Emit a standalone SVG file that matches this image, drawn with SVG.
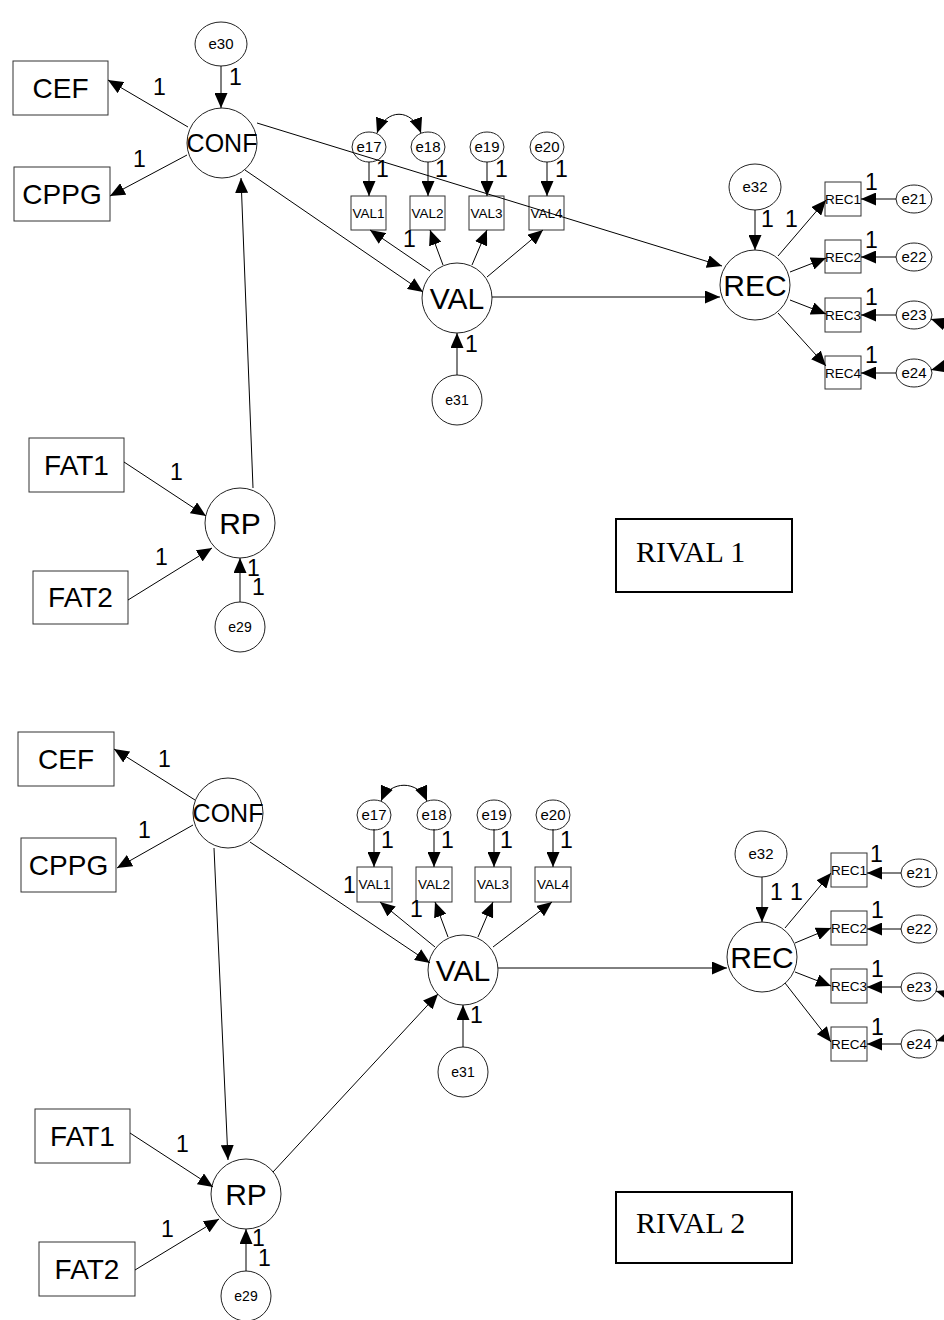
<svg xmlns="http://www.w3.org/2000/svg" width="944" height="1320" viewBox="0 0 944 1320">
<style>
.bx{fill:#fff;stroke:#333;stroke-width:1}
.lv{fill:#fff;stroke:#222;stroke-width:1}
.t{font-family:"Liberation Sans",Arial,sans-serif;fill:#000;text-anchor:middle}
.big{font-size:28px}
.lat{font-size:30px}
.sm{font-size:15px}
.ob{font-size:13.5px}
.n{font-family:"Liberation Sans",Arial,sans-serif;font-size:23px;fill:#000}
.c{fill:none;stroke:#000;stroke-width:1;marker-end:url(#ah)}
.cv{fill:none;stroke:#000;stroke-width:1;marker-end:url(#ah);marker-start:url(#ah)}
.rv{fill:#fff;stroke:#000;stroke-width:2}
.rt{font-family:"Liberation Serif","Times New Roman",serif;font-size:30px;fill:#000}
</style>
<defs>
<marker id="ah" markerWidth="15" markerHeight="13" refX="15" refY="6.5" orient="auto-start-reverse" markerUnits="userSpaceOnUse"><path d="M0,0 L15,6.5 L0,13 z" fill="#000"/></marker>
</defs>

<!-- top model -->
<g id="CEF1"><rect class="bx" x="13" y="61" width="95" height="54"/><text class="t big" x="60.5" y="98">CEF</text></g>
<g id="CPPG1"><rect class="bx" x="14" y="167" width="96" height="54"/><text class="t big" x="62" y="204">CPPG</text></g>
<g id="CONF1"><circle class="lv" cx="222" cy="143" r="35"/><text class="t" style="font-size:25px" x="222" y="152">CONF</text></g>
<g id="e30"><ellipse class="lv" cx="221" cy="44" rx="26" ry="22"/><text class="t sm" x="221" y="49">e30</text></g>
<g id="VAL_1"><circle class="lv" cx="457" cy="298" r="35"/><text class="t lat" x="457" y="309">VAL</text></g>
<g id="e31_1"><circle class="lv" cx="457" cy="400" r="25"/><text class="t" style="font-size:14px" x="457" y="405">e31</text></g>
<g id="e17_1"><ellipse class="lv" cx="369" cy="147" rx="17" ry="15"/><text class="t sm" x="369" y="152">e17</text></g>
<g id="e18_1"><ellipse class="lv" cx="428" cy="147" rx="17" ry="15"/><text class="t sm" x="428" y="152">e18</text></g>
<g id="e19_1"><ellipse class="lv" cx="487" cy="147" rx="17" ry="15"/><text class="t sm" x="487" y="152">e19</text></g>
<g id="e20_1"><ellipse class="lv" cx="547" cy="147" rx="17" ry="15"/><text class="t sm" x="547" y="152">e20</text></g>
<g id="VAL1_1"><rect class="bx" x="351" y="196" width="35" height="34"/><text class="t ob" x="368.5" y="218">VAL1</text></g>
<g id="VAL2_1"><rect class="bx" x="410" y="196" width="35" height="34"/><text class="t ob" x="427.5" y="218">VAL2</text></g>
<g id="VAL3_1"><rect class="bx" x="469" y="196" width="35" height="34"/><text class="t ob" x="486.5" y="218">VAL3</text></g>
<g id="VAL4_1"><rect class="bx" x="529" y="196" width="35" height="34"/><text class="t ob" x="546.5" y="218">VAL4</text></g>
<g id="REC_1"><circle class="lv" cx="755" cy="285" r="35"/><text class="t lat" x="755" y="296">REC</text></g>
<g id="e32_1"><ellipse class="lv" cx="755" cy="187" rx="26" ry="23"/><text class="t sm" x="755" y="192">e32</text></g>
<g id="REC1_1"><rect class="bx" x="825" y="182" width="36" height="34"/><text class="t ob" x="843" y="204">REC1</text></g>
<g id="REC2_1"><rect class="bx" x="825" y="240" width="36" height="33"/><text class="t ob" x="843" y="262">REC2</text></g>
<g id="REC3_1"><rect class="bx" x="825" y="298" width="36" height="34"/><text class="t ob" x="843" y="320">REC3</text></g>
<g id="REC4_1"><rect class="bx" x="825" y="356" width="36" height="33"/><text class="t ob" x="843" y="378">REC4</text></g>
<g id="e21_1"><ellipse class="lv" cx="914" cy="199" rx="18" ry="14"/><text class="t sm" x="914" y="204">e21</text></g>
<g id="e22_1"><ellipse class="lv" cx="914" cy="257" rx="18" ry="14"/><text class="t sm" x="914" y="262">e22</text></g>
<g id="e23_1"><ellipse class="lv" cx="914" cy="315" rx="18" ry="14"/><text class="t sm" x="914" y="320">e23</text></g>
<g id="e24_1"><ellipse class="lv" cx="914" cy="373" rx="18" ry="14"/><text class="t sm" x="914" y="378">e24</text></g>
<g id="RP_1"><circle class="lv" cx="240" cy="523" r="35"/><text class="t lat" x="240" y="534">RP</text></g>
<g id="e29_1"><circle class="lv" cx="240" cy="627" r="25"/><text class="t" style="font-size:14px" x="240" y="632">e29</text></g>
<g id="FAT1_1"><rect class="bx" x="29" y="438" width="95" height="54"/><text class="t big" x="76.5" y="475">FAT1</text></g>
<g id="FAT2_1"><rect class="bx" x="33" y="571" width="95" height="53"/><text class="t big" x="80.5" y="607">FAT2</text></g>
<g id="RIVAL1"><rect class="rv" x="616" y="519" width="176" height="73"/><text class="rt" x="636" y="562">RIVAL 1</text></g>

<!-- bottom model -->
<g id="CEF2"><rect class="bx" x="18" y="732" width="96" height="54"/><text class="t big" x="66" y="769">CEF</text></g>
<g id="CPPG2"><rect class="bx" x="21" y="838" width="95" height="54"/><text class="t big" x="68.5" y="875">CPPG</text></g>
<g id="CONF2"><circle class="lv" cx="228" cy="813" r="35"/><text class="t" style="font-size:25px" x="228" y="822">CONF</text></g>
<g id="VAL_2"><circle class="lv" cx="463" cy="970" r="35"/><text class="t lat" x="463" y="981">VAL</text></g>
<g id="e31_2"><circle class="lv" cx="463" cy="1072" r="25"/><text class="t" style="font-size:14px" x="463" y="1077">e31</text></g>
<g id="e17_2"><ellipse class="lv" cx="374" cy="815" rx="17" ry="15"/><text class="t sm" x="374" y="820">e17</text></g>
<g id="e18_2"><ellipse class="lv" cx="434" cy="815" rx="17" ry="15"/><text class="t sm" x="434" y="820">e18</text></g>
<g id="e19_2"><ellipse class="lv" cx="494" cy="815" rx="17" ry="15"/><text class="t sm" x="494" y="820">e19</text></g>
<g id="e20_2"><ellipse class="lv" cx="553" cy="815" rx="17" ry="15"/><text class="t sm" x="553" y="820">e20</text></g>
<g id="VAL1_2"><rect class="bx" x="357" y="867" width="35" height="35"/><text class="t ob" x="374.5" y="889">VAL1</text></g>
<g id="VAL2_2"><rect class="bx" x="416" y="867" width="36" height="35"/><text class="t ob" x="434" y="889">VAL2</text></g>
<g id="VAL3_2"><rect class="bx" x="475" y="867" width="36" height="35"/><text class="t ob" x="493" y="889">VAL3</text></g>
<g id="VAL4_2"><rect class="bx" x="535" y="867" width="36" height="35"/><text class="t ob" x="553" y="889">VAL4</text></g>
<g id="REC_2"><circle class="lv" cx="762" cy="957" r="35"/><text class="t lat" x="762" y="968">REC</text></g>
<g id="e32_2"><ellipse class="lv" cx="761" cy="854" rx="26" ry="23"/><text class="t sm" x="761" y="859">e32</text></g>
<g id="REC1_2"><rect class="bx" x="831" y="853" width="36" height="34"/><text class="t ob" x="849" y="875">REC1</text></g>
<g id="REC2_2"><rect class="bx" x="831" y="911" width="36" height="34"/><text class="t ob" x="849" y="933">REC2</text></g>
<g id="REC3_2"><rect class="bx" x="831" y="969" width="36" height="34"/><text class="t ob" x="849" y="991">REC3</text></g>
<g id="REC4_2"><rect class="bx" x="831" y="1027" width="36" height="34"/><text class="t ob" x="849" y="1049">REC4</text></g>
<g id="e21_2"><ellipse class="lv" cx="919" cy="873" rx="18" ry="14"/><text class="t sm" x="919" y="878">e21</text></g>
<g id="e22_2"><ellipse class="lv" cx="919" cy="929" rx="18" ry="14"/><text class="t sm" x="919" y="934">e22</text></g>
<g id="e23_2"><ellipse class="lv" cx="919" cy="987" rx="18" ry="14"/><text class="t sm" x="919" y="992">e23</text></g>
<g id="e24_2"><ellipse class="lv" cx="919" cy="1044" rx="18" ry="14"/><text class="t sm" x="919" y="1049">e24</text></g>
<g id="RP_2"><circle class="lv" cx="246" cy="1194" r="35"/><text class="t lat" x="246" y="1205">RP</text></g>
<g id="e29_2"><circle class="lv" cx="246" cy="1296" r="25"/><text class="t" style="font-size:14px" x="246" y="1301">e29</text></g>
<g id="FAT1_2"><rect class="bx" x="35" y="1109" width="95" height="54"/><text class="t big" x="82.5" y="1146">FAT1</text></g>
<g id="FAT2_2"><rect class="bx" x="39" y="1242" width="96" height="54"/><text class="t big" x="87" y="1279">FAT2</text></g>
<g id="RIVAL2"><rect class="rv" x="616" y="1192" width="176" height="71"/><text class="rt" x="636" y="1233">RIVAL 2</text></g>

<g id="connectors">
<!-- top -->
<path class="c" d="M221,66 L221,108"/>
<path class="c" d="M188,127 L108,80"/>
<path class="c" d="M187,155 L110,196"/>
<path class="c" d="M257,123 L722,266"/>
<path class="c" d="M245,170 L423,292"/>
<path class="c" d="M253,488 L241,178"/>
<path class="c" d="M124,462 L206,516"/>
<path class="c" d="M128,600 L212,548"/>
<path class="c" d="M240,602 L240,558"/>
<path class="c" d="M457,375 L457,333"/>
<path class="c" d="M492,297 L720,297"/>
<path class="c" d="M430,271 L370,230"/>
<path class="c" d="M443,265 L430,230"/>
<path class="c" d="M472,265 L487,230"/>
<path class="c" d="M487,277 L543,230"/>
<path class="c" d="M369,162 L369,196"/>
<path class="c" d="M428,162 L428,196"/>
<path class="c" d="M487,162 L487,196"/>
<path class="c" d="M547,162 L547,196"/>
<path class="cv" d="M377,133 C386,108 412,108 421,133"/>
<path class="c" d="M755,210 L755,250"/>
<path class="c" d="M778,256 L826,200"/>
<path class="c" d="M790,272 L826,258"/>
<path class="c" d="M790,300 L826,314"/>
<path class="c" d="M778,313 L826,366"/>
<path class="c" d="M896,199 L861,199"/>
<path class="c" d="M896,257 L861,257"/>
<path class="c" d="M896,315 L861,315"/>
<path class="c" d="M896,373 L861,373"/>
<path class="cv" d="M931,319 C962,330 962,362 931,370"/>
<!-- bottom -->
<path class="c" d="M195,800 L114,749"/>
<path class="c" d="M193,825 L117,868"/>
<path class="c" d="M250,842 L430,963"/>
<path class="c" d="M214,848 L228,1160"/>
<path class="c" d="M273,1172 L438,994"/>
<path class="c" d="M130,1133 L213,1187"/>
<path class="c" d="M135,1270 L219,1219"/>
<path class="c" d="M246,1271 L246,1229"/>
<path class="c" d="M463,1047 L463,1005"/>
<path class="c" d="M498,968 L727,968"/>
<path class="c" d="M435,947 L380,902"/>
<path class="c" d="M448,937 L435,902"/>
<path class="c" d="M478,937 L493,902"/>
<path class="c" d="M493,947 L552,902"/>
<path class="c" d="M374,829 L374,867"/>
<path class="c" d="M434,829 L434,867"/>
<path class="c" d="M494,829 L494,867"/>
<path class="c" d="M553,829 L553,867"/>
<path class="cv" d="M381,801 C390,780 418,780 427,801"/>
<path class="c" d="M762,877 L762,922"/>
<path class="c" d="M785,928 L831,873"/>
<path class="c" d="M795,943 L831,928"/>
<path class="c" d="M795,972 L831,986"/>
<path class="c" d="M785,983 L831,1042"/>
<path class="c" d="M901,873 L867,873"/>
<path class="c" d="M901,929 L867,929"/>
<path class="c" d="M901,987 L867,987"/>
<path class="c" d="M901,1044 L867,1044"/>
<path class="cv" d="M936,991 C965,1000 965,1032 936,1041"/>
</g>

<g id="labels">
<text class="n" x="229" y="85">1</text>
<text class="n" x="153" y="95">1</text>
<text class="n" x="133" y="167">1</text>
<text class="n" x="376" y="177">1</text>
<text class="n" x="435" y="177">1</text>
<text class="n" x="495" y="177">1</text>
<text class="n" x="555" y="177">1</text>
<text class="n" x="403" y="247">1</text>
<text class="n" x="465" y="352">1</text>
<text class="n" x="761" y="227">1</text>
<text class="n" x="785" y="227">1</text>
<text class="n" x="865" y="190">1</text>
<text class="n" x="865" y="248">1</text>
<text class="n" x="865" y="305">1</text>
<text class="n" x="865" y="363">1</text>
<text class="n" x="170" y="480">1</text>
<text class="n" x="155" y="565">1</text>
<text class="n" x="247" y="576">1</text>
<text class="n" x="252" y="595">1</text>
<text class="n" x="158" y="767">1</text>
<text class="n" x="138" y="838">1</text>
<text class="n" x="381" y="848">1</text>
<text class="n" x="441" y="848">1</text>
<text class="n" x="500" y="848">1</text>
<text class="n" x="560" y="848">1</text>
<text class="n" x="343" y="893">1</text>
<text class="n" x="410" y="917">1</text>
<text class="n" x="470" y="1023">1</text>
<text class="n" x="770" y="900">1</text>
<text class="n" x="790" y="900">1</text>
<text class="n" x="870" y="862">1</text>
<text class="n" x="871" y="918">1</text>
<text class="n" x="871" y="977">1</text>
<text class="n" x="871" y="1035">1</text>
<text class="n" x="176" y="1152">1</text>
<text class="n" x="161" y="1237">1</text>
<text class="n" x="252" y="1246">1</text>
<text class="n" x="258" y="1266">1</text>
</g>
</svg>
